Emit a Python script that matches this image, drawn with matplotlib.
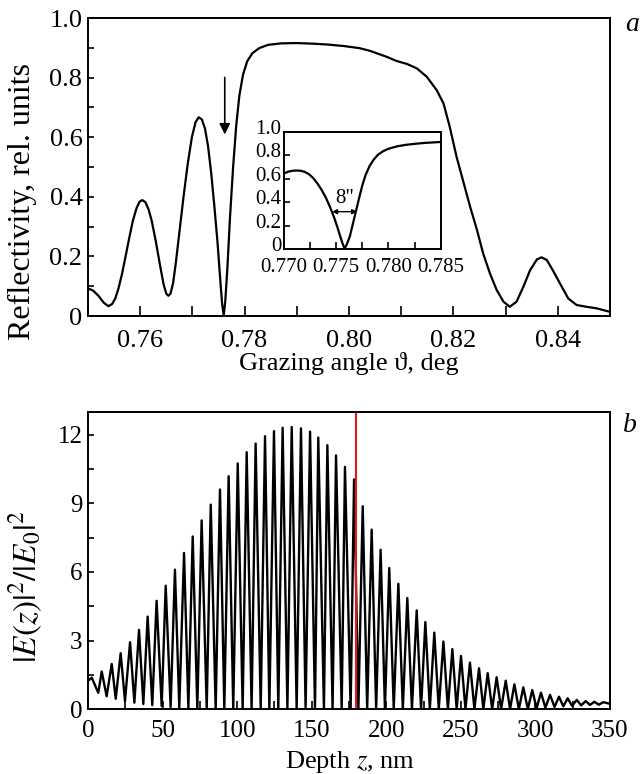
import numpy as np
import matplotlib
matplotlib.use("Agg")
import matplotlib.pyplot as plt
from matplotlib.ticker import MultipleLocator, FuncFormatter
from matplotlib.transforms import ScaledTranslation

# (a) reflectivity curve
angle = [0.7500, 0.7510, 0.7520, 0.7530, 0.7539, 0.7546, 0.7552, 0.7558, 0.7565,
         0.7572, 0.7579, 0.7586, 0.7593, 0.7599, 0.7604, 0.7610, 0.7616, 0.7622,
         0.7630, 0.7638, 0.7645, 0.7650, 0.7654, 0.7658, 0.7663, 0.7668, 0.7675,
         0.7683, 0.7691, 0.7699, 0.7706, 0.7712, 0.7718, 0.7724, 0.7730, 0.7736,
         0.7742, 0.7748, 0.7753, 0.7757, 0.7760, 0.7763, 0.7767, 0.7772, 0.7778,
         0.7784, 0.7790, 0.7797, 0.7805, 0.7815, 0.7828, 0.7845, 0.7870, 0.7900,
         0.7930, 0.7960, 0.7990, 0.8020, 0.8040, 0.8072, 0.8091, 0.8111, 0.8130,
         0.8149, 0.8168, 0.8181, 0.8193, 0.8206, 0.8219, 0.8232, 0.8245, 0.8257,
         0.8270, 0.8283, 0.8296, 0.8308, 0.8321, 0.8334, 0.8347, 0.8360, 0.8369,
         0.8379, 0.8391, 0.8404, 0.8420, 0.8436, 0.8455, 0.8474, 0.8500]
refl = [0.093, 0.085, 0.068, 0.045, 0.033, 0.040, 0.058, 0.090, 0.140,
        0.200, 0.262, 0.320, 0.362, 0.384, 0.389, 0.382, 0.358, 0.320,
        0.250, 0.170, 0.105, 0.075, 0.068, 0.075, 0.110, 0.175, 0.280,
        0.400, 0.510, 0.600, 0.650, 0.667, 0.660, 0.630, 0.570, 0.480,
        0.370, 0.250, 0.130, 0.040, 0.002, 0.050, 0.160, 0.330, 0.500,
        0.640, 0.740, 0.810, 0.855, 0.882, 0.899, 0.910, 0.915, 0.916,
        0.914, 0.911, 0.906, 0.899, 0.890, 0.870, 0.856, 0.846, 0.831,
        0.803, 0.758, 0.714, 0.635, 0.535, 0.451, 0.367, 0.290, 0.210,
        0.143, 0.087, 0.048, 0.031, 0.048, 0.098, 0.154, 0.190, 0.197,
        0.188, 0.152, 0.110, 0.059, 0.037, 0.031, 0.026, 0.014]

# inset: zoom around the dip
inset_angle = [0.7700, 0.7704, 0.7708, 0.7712, 0.7716, 0.7720, 0.7724, 0.7728,
               0.7732, 0.7736, 0.7740, 0.7744, 0.7748, 0.7751, 0.7754, 0.7756,
               0.7758, 0.7760, 0.7763, 0.7766, 0.7769, 0.7772, 0.7775, 0.7778,
               0.7782, 0.7786, 0.7790, 0.7795, 0.7800, 0.7808, 0.7816, 0.7825,
               0.7835, 0.7850]
inset_refl = [0.646, 0.660, 0.668, 0.670, 0.668, 0.658, 0.638, 0.605,
              0.560, 0.505, 0.440, 0.360, 0.270, 0.190, 0.105, 0.050,
              0.005, 0.040, 0.110, 0.220, 0.330, 0.440, 0.545, 0.630,
              0.710, 0.765, 0.805, 0.835, 0.855, 0.875, 0.888, 0.897,
              0.905, 0.913]

# (b) field intensity: maxima and minima of the standing wave
peak_z = [2.5, 9.2, 15.9, 21.9, 28.2, 34.2, 40.0, 46.0, 52.1, 58.3,
          64.4, 70.2, 76.2, 82.3, 88.5, 94.3, 100.4, 106.4, 112.4, 118.7,
          124.7, 130.5, 136.6, 142.8, 148.9, 154.4, 160.5, 166.3, 172.3, 178.4,
          184.2, 190.2, 196.2, 202.0, 208.1, 214.1, 220.4, 226.2, 232.2, 238.3,
          244.3, 250.1, 256.1, 262.2, 268.0, 274.0, 280.1, 285.9, 291.9, 297.9,
          303.7, 309.8, 315.8, 321.6, 327.7, 333.7, 339.5, 345.5]
peak_val = [1.38, 1.65, 1.98, 2.45, 2.93, 3.47, 4.05, 4.74, 5.40, 6.10,
            6.83, 7.55, 8.25, 8.94, 9.60, 10.18, 10.74, 11.23, 11.61, 11.93,
            12.15, 12.30, 12.33, 12.27, 12.13, 11.87, 11.54, 11.09, 10.59, 10.04,
            8.87, 7.85, 6.97, 6.17, 5.48, 4.86, 4.32, 3.81, 3.35, 2.96,
            2.63, 2.33, 2.04, 1.79, 1.58, 1.40, 1.25, 1.09, 0.96, 0.84,
            0.73, 0.63, 0.55, 0.48, 0.41, 0.36, 0.33, 0.31]
trough_z = [6.9, 12.5, 18.6, 24.8, 31.1, 37.1, 43.1, 49.4, 55.4, 61.2,
            67.3, 73.3, 79.6, 85.6, 91.4, 97.4, 103.7, 109.7, 115.8, 121.6,
            127.6, 133.7, 139.9, 145.9, 152.2, 158.2, 164.0, 170.1, 176.1, 181.3,
            187.2, 193.2, 199.1, 205.0, 211.1, 217.2, 223.3, 229.2, 235.2, 241.3,
            247.2, 253.1, 259.1, 265.1, 271.0, 277.0, 283.0, 288.9, 294.9, 300.8,
            306.7, 312.8, 318.7, 324.6, 330.7, 336.6, 342.5]
trough_val = [0.72, 0.57, 0.46, 0.36, 0.29, 0.23, 0.18, 0.14, 0.10, 0.07,
              0.05, 0.03, 0.02, 0.01, 0.01, 0.01, 0.01, 0.01, 0.01, 0.01,
              0.01, 0.01, 0.01, 0.01, 0.01, 0.01, 0.01, 0.01, 0.01, 0.01,
              0.01, 0.01, 0.01, 0.01, 0.01, 0.01, 0.01, 0.01, 0.01, 0.01,
              0.01, 0.01, 0.01, 0.01, 0.01, 0.01, 0.01, 0.01, 0.01, 0.04,
              0.07, 0.10, 0.13, 0.15, 0.17, 0.19, 0.20]
z_ends = [0.0, 350.0]
val_ends = [1.25, 0.24]
interface_z = 180.0

plt.rcParams["font.family"] = ["Liberation Serif", "DejaVu Serif"]
plt.rcParams["mathtext.fontset"] = "stix"


def style_axes(ax, size, xlen, ylen, xpad, ypad):
    for s in ax.spines.values():
        s.set_linewidth(1.4)
    ax.tick_params(which="both", direction="in", top=False, right=False,
                   labelsize=size, width=1.2)
    ax.tick_params(axis="x", which="both", length=xlen, pad=xpad)
    ax.tick_params(axis="y", which="both", length=ylen, pad=ypad)


def zero_fmt(v, pos):
    if abs(v) < 1e-9:
        return "0"
    return "%.1f" % v


fig = plt.figure(figsize=(6.4, 7.74), dpi=100)

# ---- panel a
ax1 = fig.add_axes([0.1375, 0.5917, 0.8156, 0.385])
ax1.plot(angle, refl, color="black", lw=1.6, solid_joinstyle="round")
ax1.set_xlim(0.75, 0.85)
ax1.set_ylim(0, 1.0)
ax1.xaxis.set_major_locator(MultipleLocator(0.02))
ax1.xaxis.set_minor_locator(MultipleLocator(0.01))
ax1.yaxis.set_major_locator(MultipleLocator(0.2))
ax1.yaxis.set_minor_locator(MultipleLocator(0.1))
ax1.xaxis.set_major_formatter(FuncFormatter(lambda v, p: "%.2f" % v))
ax1.yaxis.set_major_formatter(FuncFormatter(zero_fmt))
style_axes(ax1, 19, 7, 4, 10, 4)
ax1.set_xlabel("Grazing angle \u03d1, deg", fontsize=19)
ax1.xaxis.set_label_coords(0.5, -0.122)
ax1.xaxis.label.set_va("top")
ax1.set_ylabel("Reflectivity, rel. units", fontsize=23)
ax1.yaxis.set_label_coords(-0.097, 0.386)
ax1.annotate("", xy=(0.7762, 0.60), xytext=(0.7762, 0.81),
             arrowprops=dict(arrowstyle="-|>", color="black", lw=1.2,
                             mutation_scale=16))
ax1.text(1.042, 0.977, "a", transform=ax1.transAxes, fontsize=20,
         style="italic", ha="center", va="center")

# ---- inset
ins = fig.add_axes([0.4438, 0.6779, 0.2448, 0.1519])
ins.plot(inset_angle, inset_refl, color="black", lw=1.6,
         solid_joinstyle="round")
ins.set_xlim(0.770, 0.785)
ins.set_ylim(0, 1.0)
ins.xaxis.set_major_locator(MultipleLocator(0.005))
ins.xaxis.set_minor_locator(MultipleLocator(0.0025))
ins.yaxis.set_major_locator(MultipleLocator(0.2))
ins.xaxis.set_major_formatter(FuncFormatter(lambda v, p: "%.3f" % v))
ins.yaxis.set_major_formatter(FuncFormatter(zero_fmt))
style_axes(ins, 15, 5, 4, 6, 2)
# y labels of the inset sit a little above their ticks
lift = ScaledTranslation(0, 3.5 / 72, fig.dpi_scale_trans)
for lab in ins.get_yticklabels():
    lab.set_transform(lab.get_transform() + lift)
ins.annotate("", xy=(0.7746, 0.32), xytext=(0.7770, 0.32),
             arrowprops=dict(arrowstyle="<|-|>", color="black", lw=1.0,
                             mutation_scale=7, shrinkA=0, shrinkB=0))
ins.text(0.7758, 0.35, "8\"", fontsize=15, ha="center", va="bottom")

# ---- panel b
zz = [z_ends[0]]
ee = [val_ends[0]]
for i in range(len(peak_z)):
    zz.append(peak_z[i])
    ee.append(peak_val[i])
    if i < len(trough_z):
        zz.append(trough_z[i])
        ee.append(trough_val[i])
zz.append(z_ends[1])
ee.append(val_ends[1])

ax2 = fig.add_axes([0.1375, 0.0836, 0.8156, 0.3845])
ax2.plot(zz, ee, color="black", lw=1.7, solid_joinstyle="round")
ax2.axvline(interface_z, color="#e8141e", lw=1.5)
ax2.set_xlim(0, 350)
ax2.set_ylim(0, 13)
ax2.xaxis.set_major_locator(MultipleLocator(50))
ax2.xaxis.set_minor_locator(MultipleLocator(25))
ax2.yaxis.set_major_locator(MultipleLocator(3))
ax2.yaxis.set_minor_locator(MultipleLocator(1.5))
style_axes(ax2, 18, 6, 4, 8, 4)
ax2.set_xlabel("Depth $z$, nm", fontsize=19)
ax2.xaxis.set_label_coords(0.502, -0.132)
ax2.xaxis.label.set_va("top")
ax2.set_ylabel(r"$|E(z)|^2/|E_0|^2$", fontsize=24)
ax2.yaxis.set_label_coords(-0.082, 0.4126)
ax2.text(1.038, 0.955, "b", transform=ax2.transAxes, fontsize=20,
         style="italic", ha="center", va="center")

fig.savefig("out.png", dpi=100)
